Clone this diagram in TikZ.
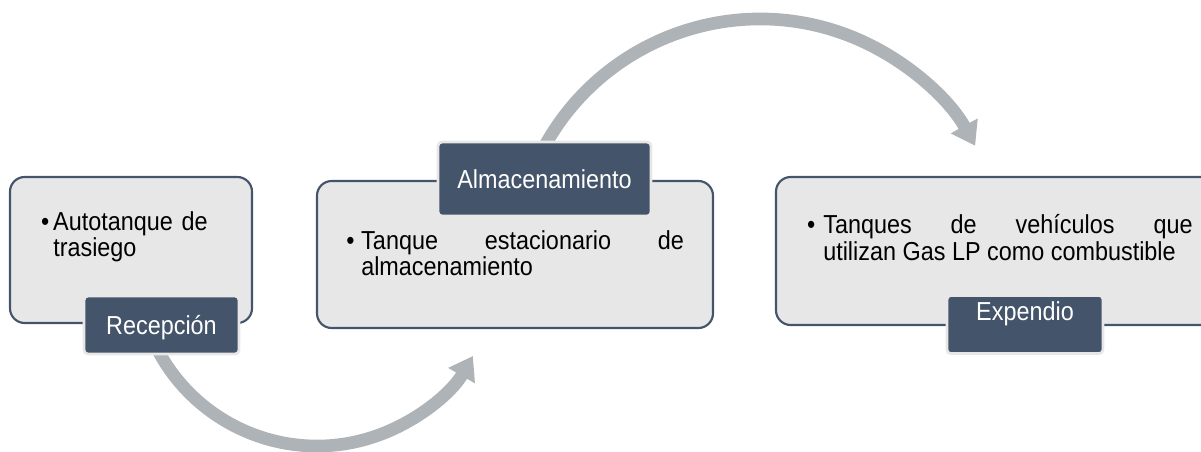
\documentclass[tikz,border=0pt]{standalone}
\usepackage{fontspec}
\setmainfont{Liberation Sans}[FakeStretch=0.9]
\usetikzlibrary{arrows.meta}

\definecolor{slate}{HTML}{44546A}
\definecolor{panelgray}{HTML}{E7E7E7}
\definecolor{flowgray}{HTML}{AEB3B7}
\newcommand{\blt}[1]{\llap{\textbullet\hspace{#1}}}
\hyphenpenalty=10000
\exhyphenpenalty=10000

\begin{document}
\begin{tikzpicture}[x=0.75pt,y=0.75pt,
	font=\fontsize{19.5}{20}\selectfont,
	panel/.style={draw=slate, line width=1.6pt, fill=panelgray, rounded corners=11pt, inner sep=0pt},
	stage/.style={draw=panelgray, line width=2pt, fill=slate, text=white, rounded corners=3pt, inner sep=0pt, text height=13.6pt, text depth=0pt},
	itemtext/.style={anchor=north west, inner sep=0pt, text width=#1, align=justify},
	flow/.style={draw=flowgray, line width=9.5pt, -{Triangle[width=22pt,length=17pt]}}]
	\useasboundingbox (0,0) rectangle (1201,451);
	\clip (0,0) rectangle (1201,451);
	% centres of the two bent arrows
	\path (317,185) coordinate (c1);
	\path (760,186) coordinate (c2);
	\path (c1) ++(200:180) coordinate (f1);
	\path (c2) ++(155:246) coordinate (f2);

	% the three boxes
	\node[panel, minimum width=181.5pt, minimum height=109.5pt] (recbox) at (131,201) {};
	\node[panel, minimum width=297pt, minimum height=110.25pt] (almbox) at (515,196.5) {};
	\node[panel, minimum width=329.25pt, minimum height=111pt] (expbox) at (995.5,200) {};

	\node[itemtext=150pt, align=left] (rectext) at (53,240) {\blt{3pt}Autotanque de\\trasiego};
	\node[itemtext=242pt] (almtext) at (361,221) {\blt{5pt}Tanque estacionario de almacenamiento};
	\node[itemtext=277pt] (exptext) at (823,237) {\blt{6pt}Tanques de vehículos que\linebreak utilizan Gas LP como combustible};

	% arrows behind the tabs
	\draw[flow] (f1) arc[start angle=200, end angle=330, radius=180];
	\draw[flow] (f2) arc[start angle=155, end angle=29, radius=246];

	% tabs
	\node[stage, minimum width=116.25pt, minimum height=43.5pt] (rec) at (161.5,126) {Recepción};
	\node[stage, minimum width=159.75pt, minimum height=55.5pt] (alm) at (544.5,272) {Almacenamiento};
	\node[stage, minimum width=117pt, text depth=20pt, inner ysep=5pt] (exp) at (1025,126.5) {Expendio};
\end{tikzpicture}
\end{document}
